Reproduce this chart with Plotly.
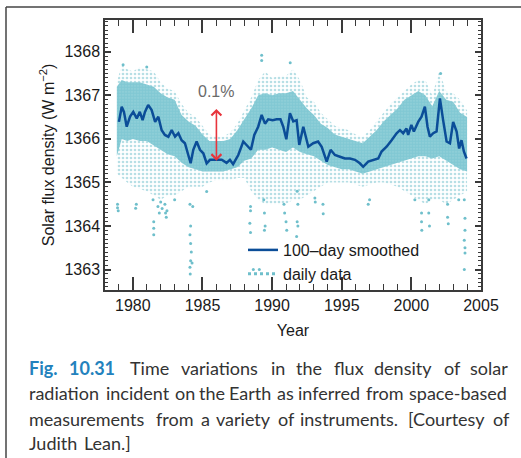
import plotly.graph_objects as go

# ---------------- data ----------------
smooth_year = [1979.0, 1979.2, 1979.36, 1979.56, 1979.8, 1980.03, 1980.28, 1980.5, 1980.7, 1980.87,
               1981.1, 1981.35, 1981.6, 1981.83, 1982.07, 1982.3, 1982.55, 1982.79, 1983.03, 1983.27,
               1983.5, 1983.74, 1983.98, 1984.15, 1984.34, 1984.58, 1984.82, 1985.06, 1985.3, 1985.54,
               1986.0, 1986.38, 1986.73, 1986.97, 1987.2, 1987.57, 1987.93, 1988.17, 1988.48, 1988.72,
               1989.0, 1989.25, 1989.49, 1989.72, 1990.04, 1990.33, 1990.6, 1990.8, 1991.02, 1991.28,
               1991.52, 1991.76, 1991.95, 1992.24, 1992.6, 1992.95, 1993.3, 1993.56, 1993.92, 1994.2,
               1994.51, 1994.87, 1995.23, 1995.59, 1995.95, 1996.3, 1996.54, 1996.9, 1997.26, 1997.62,
               1997.86, 1998.22, 1998.58, 1998.94, 1999.18, 1999.41, 1999.65, 1999.77, 2000.0, 2000.18,
               2000.49, 2000.73, 2000.97, 2001.16, 2001.33, 2001.57, 2001.81, 2002.05, 2002.28, 2002.53,
               2002.77, 2003.0, 2003.25, 2003.43, 2003.6, 2003.77, 2003.96]
smooth_flux = [1366.39, 1366.74, 1366.62, 1366.28, 1366.51, 1366.62, 1366.47, 1366.62, 1366.43, 1366.62,
               1366.78, 1366.66, 1366.39, 1366.51, 1366.2, 1366.09, 1366.05, 1366.2, 1366.05, 1366.13,
               1365.97, 1365.9, 1365.63, 1365.44, 1365.75, 1365.94, 1365.75, 1365.67, 1365.44, 1365.52,
               1365.52, 1365.52, 1365.45, 1365.52, 1365.42, 1365.63, 1365.94, 1365.86, 1365.75, 1366.09,
               1366.28, 1366.55, 1366.35, 1366.45, 1366.43, 1366.45, 1366.45, 1366.28, 1365.99, 1366.59,
               1366.4, 1366.43, 1365.86, 1366.28, 1365.82, 1365.9, 1365.94, 1365.82, 1365.48, 1365.75,
               1365.63, 1365.59, 1365.55, 1365.55, 1365.52, 1365.44, 1365.36, 1365.48, 1365.52, 1365.55,
               1365.71, 1365.82, 1365.97, 1366.13, 1366.2, 1366.13, 1366.24, 1366.09, 1366.32, 1366.17,
               1366.39, 1366.51, 1366.74, 1366.28, 1366.05, 1366.13, 1366.17, 1366.93, 1366.43, 1365.94,
               1365.9, 1366.39, 1366.17, 1365.78, 1365.97, 1365.71, 1365.55]

# envelope of the dense cloud of daily values and of its scattered halo
band_year = [1978.85, 1979.2, 1979.6, 1980.0, 1980.5, 1981.0, 1981.5, 1982.0, 1982.5, 1983.0,
             1983.5, 1984.0, 1984.5, 1985.0, 1985.5, 1986.0, 1986.5, 1987.0, 1987.5, 1988.0,
             1988.5, 1989.0, 1989.5, 1990.0, 1990.5, 1991.0, 1991.5, 1992.0, 1992.5, 1993.0,
             1993.5, 1994.0, 1994.5, 1995.0, 1995.5, 1996.0, 1996.5, 1997.0, 1997.5, 1998.0,
             1998.5, 1999.0, 1999.5, 2000.0, 2000.5, 2001.0, 2001.5, 2002.0, 2002.5, 2003.0,
             2003.5, 2004.0]
core_hi = [1367.2, 1367.35, 1367.3, 1367.3, 1367.3, 1367.25, 1367.2, 1367.05, 1366.95, 1366.9,
           1366.55, 1366.4, 1366.3, 1366.1, 1365.95, 1365.95, 1365.95, 1366.0, 1366.2, 1366.45,
           1366.7, 1367.0, 1367.05, 1367.0, 1367.05, 1367.05, 1367.1, 1366.9, 1366.7, 1366.55,
           1366.35, 1366.25, 1366.1, 1366.05, 1366.0, 1365.95, 1365.9, 1366.05, 1366.2, 1366.4,
           1366.55, 1366.7, 1366.9, 1367.0, 1367.1, 1367.0, 1366.75, 1367.1, 1366.9, 1366.85,
           1366.6, 1366.5]
core_lo = [1365.6, 1366.0, 1365.95, 1366.0, 1365.95, 1365.95, 1365.85, 1365.75, 1365.65, 1365.6,
           1365.45, 1365.35, 1365.3, 1365.25, 1365.25, 1365.25, 1365.25, 1365.3, 1365.35, 1365.5,
           1365.55, 1365.75, 1365.75, 1365.8, 1365.75, 1365.7, 1365.8, 1365.7, 1365.65, 1365.6,
           1365.5, 1365.4, 1365.35, 1365.3, 1365.3, 1365.25, 1365.2, 1365.25, 1365.3, 1365.35,
           1365.4, 1365.45, 1365.5, 1365.55, 1365.6, 1365.6, 1365.55, 1365.6, 1365.5, 1365.4,
           1365.3, 1365.25]
halo_hi = [1367.3, 1367.7, 1367.6, 1367.55, 1367.65, 1367.6, 1367.55, 1367.3, 1367.15, 1367.1,
           1366.8, 1366.6, 1366.5, 1366.3, 1366.1, 1366.05, 1366.05, 1366.15, 1366.35, 1366.65,
           1366.95, 1367.35, 1367.55, 1367.4, 1367.45, 1367.45, 1367.6, 1367.35, 1366.95, 1366.85,
           1366.6, 1366.45, 1366.3, 1366.25, 1366.2, 1366.1, 1366.05, 1366.2, 1366.4, 1366.6,
           1366.8, 1366.95, 1367.1, 1367.25, 1367.35, 1367.35, 1367.0, 1367.55, 1367.1, 1367.05,
           1366.9, 1366.65]
halo_lo = [1365.2, 1365.1, 1365.0, 1364.9, 1364.85, 1364.8, 1364.7, 1364.6, 1364.7, 1364.7,
           1364.8, 1364.9, 1364.9, 1364.9, 1365.0, 1365.05, 1365.05, 1365.05, 1365.1, 1365.1,
           1364.8, 1364.6, 1364.5, 1364.5, 1364.5, 1364.5, 1364.6, 1364.6, 1364.7, 1364.8,
           1364.9, 1365.0, 1365.0, 1365.0, 1365.0, 1364.95, 1364.9, 1364.95, 1365.0, 1365.0,
           1364.95, 1364.9, 1364.8, 1364.7, 1364.6, 1364.5, 1364.6, 1364.6, 1364.5, 1364.6,
           1364.7, 1364.8]

# isolated daily values far from the cloud
out_year = [1978.9, 1978.9, 1978.95, 1979.3, 1981.0, 1980.2, 1980.25,
            1981.45, 1981.5, 1981.5, 1981.5, 1981.8, 1981.9, 1982.0, 1982.1, 1982.3, 1982.35, 1982.4, 1982.45,
            1983.0, 1984.1, 1984.3, 1984.15, 1984.1, 1984.15, 1984.2, 1984.15, 1984.25, 1984.1, 1984.12,
            1985.3, 1988.45, 1988.45, 1988.4, 1988.45, 1988.65, 1989.08,
            1989.25, 1989.25, 1989.4, 1989.45, 1989.5, 1989.45,
            1990.85, 1990.9, 1991.0, 1991.05, 1991.3, 1991.8, 1991.85, 1991.8, 1991.85, 1991.76,
            1993.07, 1993.1, 1993.65, 1993.67, 1996.9, 1997.0,
            2000.25, 2000.73, 2000.73, 2000.75, 2001.25, 2001.25, 2001.3,
            2002.1, 2002.6, 2002.6, 2002.65, 2003.4,
            2003.8, 2003.85, 2003.85, 2003.8, 2003.85, 2003.85, 2003.8]
out_flux = [1364.5, 1364.42, 1364.35, 1367.7, 1367.65, 1364.41, 1364.5,
            1364.6, 1364.1, 1363.95, 1363.8, 1364.45, 1364.3, 1364.55, 1364.4, 1364.5, 1364.3, 1364.2, 1364.35,
            1364.6, 1364.5, 1364.45, 1364.0, 1363.8, 1363.6, 1363.4, 1363.2, 1363.15, 1363.05, 1362.9,
            1364.79, 1364.45, 1364.35, 1364.06, 1363.85, 1363.0, 1363.0,
            1367.92, 1367.8, 1364.6, 1364.3, 1364.0, 1363.9,
            1364.5, 1364.3, 1364.1, 1363.9, 1367.75, 1364.8, 1364.5, 1364.1, 1364.0, 1363.76,
            1364.64, 1364.55, 1364.5, 1364.28, 1364.5, 1364.6,
            1364.6, 1364.3, 1364.1, 1363.9, 1364.6, 1364.3, 1364.0,
            1367.5, 1364.5, 1364.2, 1364.05, 1364.6,
            1364.6, 1364.18, 1363.9, 1363.67, 1363.5, 1363.38, 1363.0]

x_ticks = [1980, 1985, 1990, 1995, 2000, 2005]
y_ticks = [1363, 1364, 1365, 1366, 1367, 1368]

caption_text = [
    ["Fig.", "10.31", "Time", "variations", "in", "the", "flux", "density", "of", "solar"],
    ["radiation", "incident", "on", "the", "Earth", "as", "inferred", "from", "space-based"],
    ["measurements", "from", "a", "variety", "of", "instruments.", "[Courtesy", "of"],
    ["Judith", "Lean.]"],
]

# ---------------- styling ----------------
TEAL = "#6fbfcb"
TEAL_LIGHT = "#93d1da"
BLUE = "#0b4d98"
AXIS = "#3a3a3a"
FONT = "Liberation Sans, Arial, sans-serif"
CAP_FONT = "Lato, sans-serif"
CAP_SIZE = 18

W, H = 521, 458
L, R, T, B = 105, 481, 20, 290


def px(xp):
    return (xp - L) / (R - L)


def py(yp):
    return (B - yp) / (B - T)


# approximate advance widths (em) for caption word placement
CW = dict(a=.50, b=.56, c=.46, d=.56, e=.52, f=.32, g=.50, h=.56, i=.24, j=.24, k=.51, l=.24, m=.84,
          n=.56, o=.56, p=.55, q=.56, r=.37, s=.42, t=.35, u=.56, v=.51, w=.78, x=.49, y=.51, z=.45)
CW.update({"C": .66, "E": .58, "F": .53, "J": .38, "L": .47, "T": .57, ".": .22, "-": .34,
           "[": .30, "]": .30})


def word_w(w, bold=False):
    s = sum(CW.get(ch, .58) for ch in w)
    return s * CAP_SIZE * (1.06 if bold else 1.0) * 1.05


fig = go.Figure()

# halo of scattered daily values (dotted fill)
fig.add_trace(go.Scatter(
    x=band_year + band_year[::-1], y=halo_hi + halo_lo[::-1],
    mode="lines", line=dict(width=0), fill="toself",
    fillcolor="rgba(0,0,0,0)",
    fillpattern=dict(shape=".", fgcolor=TEAL, bgcolor="rgba(255,255,255,0)", size=4, solidity=0.35),
    showlegend=False, hoverinfo="skip"))
# dense cloud of daily values
fig.add_trace(go.Scatter(
    x=band_year + band_year[::-1], y=core_hi + core_lo[::-1],
    mode="lines", line=dict(width=0), fill="toself",
    fillcolor=TEAL_LIGHT,
    fillpattern=dict(shape=".", fgcolor=TEAL, bgcolor=TEAL_LIGHT, size=3, solidity=0.7),
    showlegend=False, hoverinfo="skip"))
# isolated daily values
fig.add_trace(go.Scatter(
    x=out_year, y=out_flux, mode="markers",
    marker=dict(color=TEAL, size=3, line=dict(width=0)),
    showlegend=False))
# 100-day smoothed
fig.add_trace(go.Scatter(
    x=smooth_year, y=smooth_flux, mode="lines",
    line=dict(color=BLUE, width=2.5), name="100\u2013day smoothed"))
# legend entry for daily data
fig.add_trace(go.Scatter(
    x=[None], y=[None], mode="lines",
    line=dict(color=TEAL, width=3, dash="dot"), name="daily data"))

axis_common = dict(
    showgrid=False, zeroline=False, showline=True, linecolor=AXIS, linewidth=1.5,
    ticks="inside", tickcolor=AXIS, tickwidth=1.5, mirror="ticks",
    tickfont=dict(family=FONT, size=16, color="#1a1a1a"),
)
fig.update_xaxes(
    **axis_common, range=[1978, 2005], tickvals=x_ticks, ticklen=13,
    minor=dict(dtick=1, tick0=1978, ticklen=6, ticks="inside", tickcolor=AXIS, tickwidth=1.2),
    title=dict(text="Year", font=dict(family=FONT, size=16, color="#1a1a1a"), standoff=12),
)
fig.update_yaxes(
    **axis_common, range=[1362.53, 1368.73], tickvals=y_ticks, ticklen=6,
    minor=dict(dtick=0.1, tick0=1363, ticklen=3, ticks="inside", tickcolor=AXIS, tickwidth=1),
    title=dict(text="Solar flux density (W m<sup>\u22122</sup>)",
               font=dict(family=FONT, size=16, color="#1a1a1a"), standoff=6),
)

annotations = [
    dict(x=1986.0, y=1367.08, xref="x", yref="y", text="0.1%", showarrow=False,
         font=dict(family=FONT, size=16, color="#6a6a6a")),
    dict(x=1986.0, y=1365.5, ax=1986.0, ay=1366.72, xref="x", yref="y", axref="x", ayref="y",
         text="", showarrow=True, arrowhead=4, startarrowhead=4, arrowside="end+start",
         arrowcolor="#e8343c", arrowwidth=1.6, arrowsize=1.2, startarrowsize=1.2,
         standoff=0, startstandoff=0),
]

# caption, justified word by word
cap_left, cap_right = 28, 509
cap_y = [368, 393, 419, 443]
for li, (words, ypix) in enumerate(zip(caption_text, cap_y)):
    bold = [li == 0 and wi < 2 for wi in range(len(words))]
    widths = [word_w(w, b) for w, b in zip(words, bold)]
    if li < len(caption_text) - 1:
        gap = (cap_right - cap_left - sum(widths)) / (len(words) - 1)
    else:
        gap = 0.26 * CAP_SIZE
    xcur = cap_left
    for w, wd, b in zip(words, widths, bold):
        annotations.append(dict(
            x=px(xcur), y=py(ypix), xref="paper", yref="paper", xanchor="left", yanchor="middle",
            text=f"<b>{w}</b>" if b else w, showarrow=False, borderpad=0,
            font=dict(family=CAP_FONT, size=CAP_SIZE, color="#2382bd" if b else "#333333")))
        xcur += wd + gap

shapes = [
    dict(type="line", xref="paper", yref="paper", x0=px(6), x1=px(521), y0=py(7), y1=py(7),
         line=dict(color="#444444", width=1.5)),
    dict(type="line", xref="paper", yref="paper", x0=px(6), x1=px(6), y0=py(7), y1=py(458),
         line=dict(color="#444444", width=1.5)),
]

fig.update_layout(
    width=W, height=H, autosize=False,
    margin=dict(l=L, r=W - R, t=T, b=H - B, pad=0),
    paper_bgcolor="white", plot_bgcolor="white",
    font=dict(family=FONT, size=16, color="#1a1a1a"),
    legend=dict(x=px(243), y=py(233), xanchor="left", yanchor="top",
                bgcolor="rgba(0,0,0,0)", font=dict(family=FONT, size=16, color="#1a1a1a"),
                tracegroupgap=0, itemwidth=30),
    annotations=annotations, shapes=shapes,
)

fig.write_html("out.html")
